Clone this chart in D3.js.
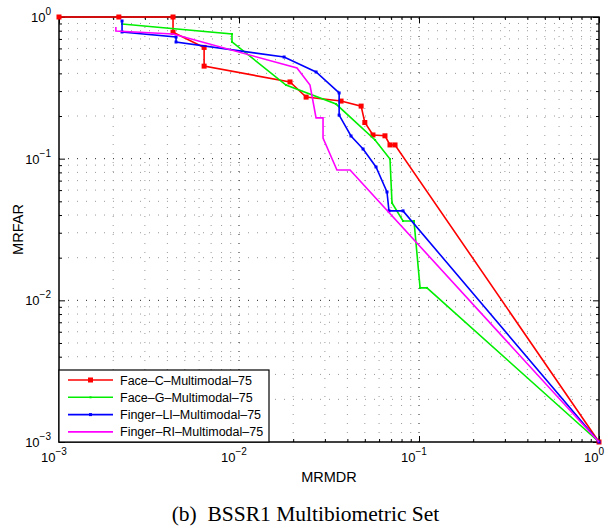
<!DOCTYPE html>
<html>
<head>
<meta charset="utf-8">
<script src="https://cdn.jsdelivr.net/npm/d3@7"></script>
<style>
body { margin: 0; background: #fff; }
text { font-family: "Liberation Sans", Arial, sans-serif; }
</style>
</head>
<body>
<div id="chart"></div>
<script>
var seriesNames = ['Face\u2013C\u2013Multimodal\u201375', 'Face\u2013G\u2013Multimodal\u201375',
                   'Finger\u2013LI\u2013Multimodal\u201375', 'Finger\u2013RI\u2013Multimodal\u201375'];
var faceC = [[0.001, 1], [0.00215, 1], [0.0043, 1], [0.0043, 0.78], [0.0064, 0.61], [0.0064, 0.45],
             [0.0192, 0.348], [0.0236, 0.272], [0.0369, 0.255], [0.0477, 0.235], [0.050, 0.18],
             [0.0555, 0.147], [0.0647, 0.145], [0.069, 0.125], [0.0736, 0.125], [1, 0.001]];
var faceG = [[0.00224, 0.893], [0.00914, 0.759], [0.00914, 0.667], [0.01824, 0.331], [0.0346, 0.243],
             [0.057, 0.1355], [0.069, 0.0995], [0.0708, 0.0487], [0.0815, 0.0363], [0.0938, 0.0363],
             [0.1014, 0.01224], [0.1107, 0.01224], [1, 0.001]];
var fingerLI = [[0.00224, 0.937], [0.00224, 0.784], [0.00447, 0.722], [0.00447, 0.666], [0.0178, 0.522],
                [0.0268, 0.409], [0.036, 0.291], [0.036, 0.203], [0.0419, 0.1446], [0.0489, 0.117],
                [0.0577, 0.0874], [0.0664, 0.0582], [0.0681, 0.0428], [0.0815, 0.0428], [1, 0.001]];
var fingerRI = [[0.00207, 0.85], [0.00207, 0.797], [0.0043, 0.759], [0.021, 0.436], [0.0248, 0.331],
                [0.0268, 0.194], [0.0293, 0.194], [0.0293, 0.14], [0.035, 0.0832], [0.0414, 0.0832], [1, 0.001]];
var xMajor = [0.001, 0.01, 0.1, 1];
var yMajor = [0.001, 0.01, 0.1, 1];
var xExp = ['\u22123', '\u22122', '\u22121', '0'];
var yExp = ['\u22123', '\u22122', '\u22121', '0'];

var allSeries = [faceC, faceG, fingerLI, fingerRI];
var colors = ['#ff0000', '#00ee00', '#0000ff', '#ff00ff'];
var markerSize = [5, 2, 3, 0];

var W = 606, H = 529;
var margin = {left: 59, top: 17, right: 7, bottom: 87};
var width = W - margin.left - margin.right, height = H - margin.top - margin.bottom;

var svg = d3.select('#chart').append('svg').attr('width', W).attr('height', H);
var g = svg.append('g').attr('transform', 'translate(' + margin.left + ',' + margin.top + ')');

var x = d3.scaleLog().domain([0.001, 1]).range([0, width]);
var y = d3.scaleLog().domain([0.001, 1]).range([height, 0]);

var xMinor = x.ticks().filter(function (d) { return xMajor.indexOf(d) < 0; });
var yMinor = y.ticks().filter(function (d) { return yMajor.indexOf(d) < 0; });

// dotted grid, major darker than minor
function gridLines(xs, ys, color) {
    var gg = g.append('g').attr('stroke', color).attr('stroke-width', 1)
        .attr('stroke-dasharray', '1,8');
    gg.selectAll('.v').data(xs).enter().append('line')
        .attr('x1', function (d) { return x(d); }).attr('x2', function (d) { return x(d); })
        .attr('y1', height).attr('y2', 0);
    gg.selectAll('.h').data(ys).enter().append('line')
        .attr('y1', function (d) { return y(d); }).attr('y2', function (d) { return y(d); })
        .attr('x1', 0).attr('x2', width);
}
gridLines(xMinor, yMinor, '#999');
gridLines(xMajor.slice(1, 3), yMajor.slice(1, 3), '#222');

// axes with inward ticks on all sides
function styleAxis(sel) {
    sel.select('.domain').remove();
    sel.selectAll('line').attr('stroke', '#000');
}
g.append('g').attr('transform', 'translate(0,' + height + ')')
    .call(d3.axisBottom(x).tickValues(xMajor).tickSize(-6).tickFormat('')).call(styleAxis);
g.append('g').attr('transform', 'translate(0,' + height + ')')
    .call(d3.axisBottom(x).tickValues(xMinor).tickSize(-3).tickFormat('')).call(styleAxis);
g.append('g')
    .call(d3.axisTop(x).tickValues(xMajor).tickSize(-6).tickFormat('')).call(styleAxis);
g.append('g')
    .call(d3.axisTop(x).tickValues(xMinor).tickSize(-3).tickFormat('')).call(styleAxis);
g.append('g')
    .call(d3.axisLeft(y).tickValues(yMajor).tickSize(-6).tickFormat('')).call(styleAxis);
g.append('g')
    .call(d3.axisLeft(y).tickValues(yMinor).tickSize(-3).tickFormat('')).call(styleAxis);
g.append('g').attr('transform', 'translate(' + width + ',0)')
    .call(d3.axisRight(y).tickValues(yMajor).tickSize(-6).tickFormat('')).call(styleAxis);
g.append('g').attr('transform', 'translate(' + width + ',0)')
    .call(d3.axisRight(y).tickValues(yMinor).tickSize(-3).tickFormat('')).call(styleAxis);

g.append('rect').attr('width', width).attr('height', height)
    .attr('fill', 'none').attr('stroke', '#000').attr('stroke-width', 1.5);

// tick labels 10^n
function powLabel(sel, exps) {
    sel.append('tspan').text('10');
    sel.append('tspan').attr('dy', -7).attr('font-size', 10).text(function (d, i) { return exps[i]; });
}
g.selectAll('.xl').data(xMajor).enter().append('text')
    .attr('x', function (d) { return x(d) - 5; }).attr('y', height + 20)
    .attr('font-size', 13).attr('text-anchor', 'middle')
    .call(powLabel, xExp);
g.selectAll('.yl').data(yMajor).enter().append('text')
    .attr('x', -8).attr('y', function (d) { return y(d) + 5; })
    .attr('font-size', 13).attr('text-anchor', 'end')
    .call(powLabel, yExp);

// series
var line = d3.line().x(function (d) { return x(d[0]); }).y(function (d) { return y(d[1]); });
allSeries.forEach(function (s, i) {
    var sg = g.append('g');
    sg.append('path').datum(s).attr('d', line).attr('fill', 'none')
        .attr('stroke', colors[i]).attr('stroke-width', 1.6);
    if (markerSize[i] > 0) {
        sg.selectAll('rect').data(s).enter().append('rect')
            .attr('x', function (d) { return x(d[0]) - markerSize[i] / 2; })
            .attr('y', function (d) { return y(d[1]) - markerSize[i] / 2; })
            .attr('width', markerSize[i]).attr('height', markerSize[i])
            .attr('fill', colors[i]);
    }
});

// axis titles
svg.append('text').attr('x', margin.left + width / 2).attr('y', 482)
    .attr('text-anchor', 'middle').attr('font-size', 14.5).text('MRMDR');
svg.append('text').attr('transform', 'translate(23,' + (margin.top + height / 2) + ') rotate(-90)')
    .attr('text-anchor', 'middle').attr('font-size', 14.5).text('MRFAR');

// legend
var lg = g.append('g').attr('transform', 'translate(0,' + (height - 72) + ')');
lg.append('rect').attr('width', 210).attr('height', 72)
    .attr('fill', '#fff').attr('stroke', '#000').attr('stroke-width', 1.2);
seriesNames.forEach(function (name, i) {
    var yy = 10 + i * 17.3;
    lg.append('line').attr('x1', 9).attr('x2', 54).attr('y1', yy).attr('y2', yy)
        .attr('stroke', colors[i]).attr('stroke-width', 1.6);
    if (markerSize[i] > 0) {
        lg.append('rect').attr('x', 31.5 - markerSize[i] / 2).attr('y', yy - markerSize[i] / 2)
            .attr('width', markerSize[i]).attr('height', markerSize[i]).attr('fill', colors[i]);
    }
    lg.append('text').attr('x', 61).attr('y', yy + 4.5).attr('font-size', 12.5).text(name);
});

// caption
svg.append('text').attr('x', 305.5).attr('y', 521).attr('text-anchor', 'middle')
    .style('font-family', '"Liberation Serif", "Times New Roman", serif')
    .attr('font-size', 21.5).attr('xml:space', 'preserve').text('(b)  BSSR1 Multibiometric Set');
</script>
</body>
</html>
